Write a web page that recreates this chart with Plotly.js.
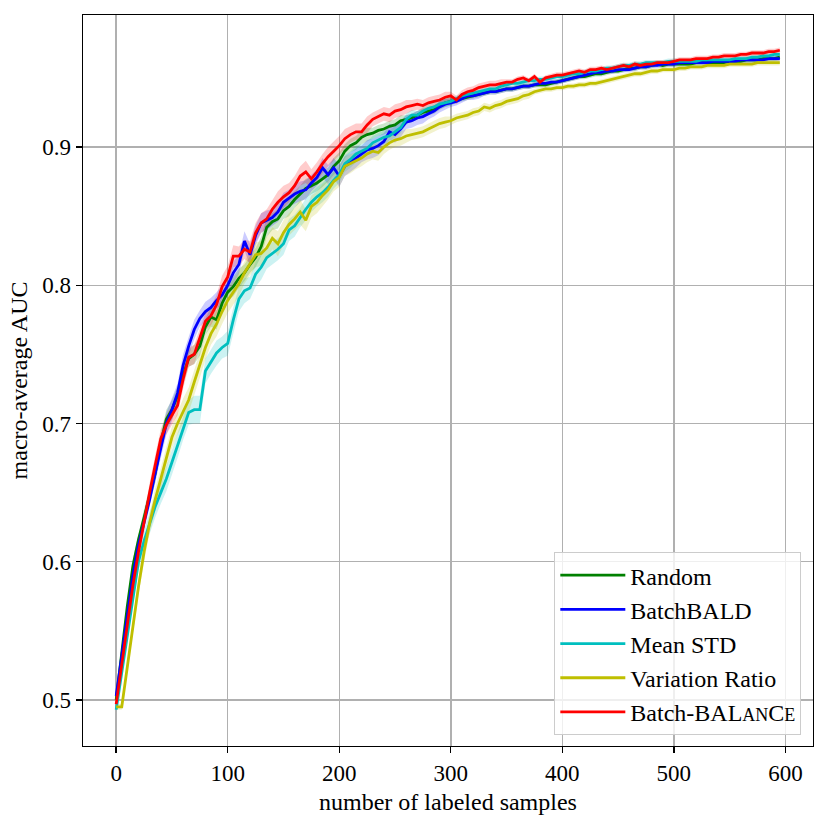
<!DOCTYPE html>
<html>
<head>
<meta charset="utf-8">
<script src="https://cdn.plot.ly/plotly-3.0.1.min.js"></script>
<style>
  body { margin: 0; background: #fff; }
  #chart { width: 830px; height: 830px; }
</style>
</head>
<body>
<div id="chart"></div>
<script>
'use strict';

// labeled samples: 0, 5, ..., 595
var samples = [];
for (var s = 0; s <= 595; s += 5) samples.push(s);

var seriesNames = ['Random', 'BatchBALD', 'Mean STD', 'Variation Ratio',
    'Batch-BAL<span style="font-size:18px">AN</span>C<span style="font-size:18px">E</span>'];

var randomAuc = [
    0.500,0.535,0.568,0.597,0.616,0.632,0.648,0.664,0.686,0.703,
    0.710,0.720,0.735,0.747,0.750,0.756,0.770,0.777,0.775,0.787,
    0.795,0.799,0.805,0.809,0.815,0.820,0.828,0.842,0.846,0.848,
    0.854,0.857,0.862,0.866,0.870,0.872,0.874,0.877,0.880,0.886,
    0.890,0.897,0.901,0.903,0.907,0.909,0.910,0.912,0.913,0.915,
    0.916,0.919,0.920,0.921,0.923,0.925,0.926,0.927,0.930,0.932,
    0.933,0.934,0.935,0.936,0.937,0.938,0.939,0.940,0.940,0.941,
    0.942,0.942,0.943,0.944,0.944,0.945,0.945,0.945,0.946,0.947,
    0.948,0.949,0.950,0.951,0.951,0.952,0.953,0.953,0.954,0.955,
    0.955,0.956,0.957,0.957,0.958,0.958,0.959,0.960,0.959,0.960,
    0.960,0.960,0.960,0.960,0.961,0.961,0.961,0.961,0.961,0.961,
    0.962,0.962,0.962,0.963,0.963,0.963,0.964,0.964,0.964,0.965];

var batchBaldAuc = [
    0.503,0.532,0.560,0.590,0.612,0.628,0.645,0.664,0.683,0.700,
    0.710,0.722,0.742,0.756,0.768,0.776,0.781,0.784,0.789,0.793,
    0.800,0.809,0.815,0.832,0.822,0.836,0.845,0.847,0.849,0.853,
    0.860,0.863,0.866,0.868,0.869,0.874,0.878,0.885,0.880,0.885,
    0.879,0.886,0.889,0.892,0.895,0.898,0.899,0.901,0.904,0.911,
    0.909,0.913,0.918,0.919,0.921,0.922,0.924,0.926,0.929,0.931,
    0.932,0.933,0.935,0.937,0.937,0.938,0.939,0.940,0.940,0.941,
    0.942,0.942,0.943,0.944,0.944,0.945,0.946,0.946,0.947,0.947,
    0.948,0.949,0.950,0.951,0.952,0.953,0.954,0.954,0.955,0.955,
    0.956,0.956,0.956,0.957,0.958,0.958,0.959,0.959,0.960,0.960,
    0.960,0.961,0.961,0.961,0.961,0.961,0.961,0.962,0.962,0.962,
    0.962,0.962,0.963,0.963,0.963,0.963,0.963,0.964,0.964,0.964];

var meanStdAuc = [
    0.493,0.520,0.548,0.576,0.600,0.615,0.628,0.640,0.650,0.660,
    0.672,0.684,0.697,0.708,0.710,0.710,0.738,0.745,0.751,0.755,
    0.758,0.775,0.790,0.796,0.798,0.808,0.813,0.820,0.823,0.826,
    0.830,0.840,0.843,0.849,0.855,0.860,0.864,0.867,0.871,0.876,
    0.880,0.888,0.891,0.895,0.897,0.899,0.903,0.905,0.907,0.908,
    0.911,0.914,0.920,0.923,0.923,0.926,0.928,0.929,0.931,0.932,
    0.933,0.935,0.937,0.938,0.939,0.940,0.941,0.942,0.942,0.944,
    0.945,0.946,0.946,0.947,0.948,0.948,0.949,0.949,0.950,0.951,
    0.951,0.952,0.953,0.953,0.954,0.955,0.955,0.956,0.957,0.957,
    0.958,0.959,0.959,0.960,0.960,0.961,0.961,0.961,0.961,0.962,
    0.962,0.962,0.962,0.962,0.962,0.963,0.963,0.963,0.963,0.963,
    0.963,0.964,0.964,0.964,0.965,0.965,0.966,0.966,0.967,0.967];

var variationRatioAuc = [
    0.495,0.495,0.524,0.553,0.582,0.607,0.628,0.645,0.660,0.675,
    0.690,0.700,0.709,0.717,0.730,0.742,0.755,0.765,0.772,0.781,
    0.789,0.795,0.801,0.809,0.816,0.822,0.823,0.827,0.834,0.830,
    0.838,0.844,0.848,0.853,0.847,0.857,0.860,0.865,0.869,0.875,
    0.878,0.886,0.888,0.890,0.892,0.895,0.897,0.896,0.900,0.903,
    0.905,0.906,0.908,0.909,0.910,0.911,0.913,0.915,0.917,0.918,
    0.919,0.921,0.922,0.923,0.925,0.926,0.929,0.928,0.930,0.931,
    0.933,0.934,0.935,0.937,0.938,0.940,0.941,0.942,0.942,0.943,
    0.943,0.944,0.944,0.945,0.945,0.946,0.946,0.947,0.948,0.949,
    0.950,0.951,0.952,0.953,0.953,0.954,0.955,0.955,0.956,0.956,
    0.956,0.957,0.957,0.958,0.958,0.958,0.959,0.959,0.959,0.959,
    0.960,0.960,0.960,0.960,0.960,0.961,0.961,0.961,0.961,0.961];

var balanceAuc = [
    0.497,0.526,0.556,0.583,0.607,0.630,0.650,0.670,0.689,0.699,
    0.706,0.713,0.732,0.748,0.750,0.762,0.774,0.778,0.786,0.799,
    0.806,0.821,0.821,0.826,0.824,0.838,0.845,0.848,0.855,0.860,
    0.864,0.867,0.872,0.879,0.882,0.877,0.882,0.888,0.893,0.897,
    0.901,0.906,0.909,0.911,0.911,0.916,0.920,0.922,0.924,0.923,
    0.926,0.927,0.929,0.930,0.931,0.930,0.932,0.933,0.934,0.936,
    0.937,0.934,0.938,0.940,0.941,0.943,0.944,0.945,0.945,0.946,
    0.947,0.947,0.949,0.950,0.948,0.951,0.947,0.950,0.951,0.952,
    0.952,0.953,0.954,0.955,0.954,0.956,0.956,0.957,0.956,0.957,
    0.958,0.959,0.958,0.960,0.959,0.960,0.960,0.961,0.961,0.961,
    0.962,0.963,0.963,0.963,0.964,0.964,0.964,0.965,0.965,0.966,
    0.966,0.966,0.967,0.967,0.968,0.968,0.968,0.969,0.969,0.970];

// half width of the shaded band, in thousandths of AUC
var randomBand = [
    2,3,4,5,5,6,6,7,7,7, 7,7,7,6,7,7,6,7,7,6,
    6,7,7,6,6,7,7,7,6,7, 6,7,6,6,7,6,6,6,5,6,
    6,5,5,5,5,5,4,4,4,4, 4,4,3,3,3,3,3,3,3,3,
    3,2,2,2,2,2,2,2,2,2, 2,2,2,2,2,2,2,2,2,2,
    2,2,2,2,2,2,2,2,2,2, 2,2,2,2,2,2,2,2,2,2,
    2,2,2,2,2,2,2,2,2,2, 2,2,2,2,2,2,2,2,2,2];
var batchBaldBand = [
    2,3,4,5,6,6,7,7,8,8, 8,7,8,7,7,6,7,7,6,7,
    7,8,7,7,8,7,7,7,6,7, 7,6,7,7,7,6,6,7,7,7,
    8,7,7,7,6,7,7,7,6,6, 6,6,5,5,5,5,4,4,4,4,
    3,3,3,3,3,3,2,2,2,2, 2,2,2,2,2,2,2,2,2,2,
    2,2,2,2,2,2,2,2,2,2, 2,2,2,2,2,2,2,2,2,2,
    2,2,2,2,2,2,2,2,2,2, 2,2,2,2,2,2,2,2,2,2];
var meanStdBand = [
    2,3,4,5,6,7,8,8,8,9, 9,9,9,9,10,10,9,9,9,8,
    9,9,9,9,8,9,9,8,8,8, 8,8,8,7,8,7,7,7,7,6,
    6,6,6,6,5,5,5,5,5,4, 4,4,4,4,3,3,3,3,3,3,
    3,2,2,2,2,2,2,2,2,2, 2,2,2,2,2,2,2,2,2,2,
    2,2,2,2,2,2,2,2,2,2, 2,2,2,2,2,2,2,2,2,2,
    2,2,2,2,2,2,2,2,2,2, 2,2,2,2,2,2,2,2,2,2];
var variationRatioBand = [
    2,2,4,5,6,7,7,8,8,8, 8,8,9,9,9,9,9,8,9,9,
    9,9,9,8,9,9,9,8,8,9, 9,8,8,9,8,8,8,8,7,7,
    7,7,7,6,6,6,6,6,5,5, 5,5,5,4,4,4,4,4,4,4,
    3,3,3,3,3,3,3,3,3,3, 3,3,3,3,3,2,2,2,2,2,
    2,2,2,2,2,2,2,2,2,2, 2,2,2,2,2,2,2,2,2,2,
    2,2,2,2,2,2,2,2,2,2, 2,2,2,2,2,2,2,2,2,2];
var balanceBand = [
    2,3,4,5,6,6,7,7,7,7, 7,7,7,7,7,7,6,7,7,8,
    8,8,7,7,8,7,7,7,7,8, 8,7,7,7,8,7,7,7,7,7,
    7,7,6,6,6,6,5,5,5,5, 5,5,5,4,4,4,4,4,4,4,
    3,3,3,3,3,3,3,3,3,3, 2,2,2,2,2,2,2,2,2,2,
    2,2,2,2,2,2,2,2,2,2, 2,2,2,2,2,2,2,2,2,2,
    2,2,2,2,2,2,2,2,2,2, 2,2,2,2,2,2,2,2,2,2];

var allAuc = [randomAuc, batchBaldAuc, meanStdAuc, variationRatioAuc, balanceAuc];
var allBand = [randomBand, batchBaldBand, meanStdBand, variationRatioBand, balanceBand];
var lineColors = ['#008000', '#0000ff', '#00bfbf', '#bfbf00', '#ff0000'];
var bandColors = ['rgba(0,128,0,0.2)', 'rgba(0,0,255,0.2)', 'rgba(0,191,191,0.2)',
    'rgba(191,191,0,0.2)', 'rgba(255,0,0,0.2)'];

var data = [];
// shaded bands first, under every line
for (var i = 0; i < allAuc.length; i++) {
    var upper = [], lower = [];
    for (var j = 0; j < samples.length; j++) {
        upper.push(allAuc[i][j] + allBand[i][j] / 1000);
        lower.push(allAuc[i][j] - allBand[i][j] / 1000);
    }
    data.push({
        x: samples.concat(samples.slice().reverse()),
        y: upper.concat(lower.reverse()),
        type: 'scatter',
        mode: 'lines',
        fill: 'toself',
        fillcolor: bandColors[i],
        line: {width: 0},
        hoverinfo: 'skip',
        showlegend: false
    });
}
for (var k = 0; k < allAuc.length; k++) {
    data.push({
        x: samples,
        y: allAuc[k],
        type: 'scatter',
        mode: 'lines',
        name: seriesNames[k],
        line: {color: lineColors[k], width: 2.8}
    });
}

var axisStyle = {
    showline: true,
    mirror: true,
    linecolor: '#000',
    linewidth: 1.4,
    ticks: 'outside',
    ticklen: 6,
    tickwidth: 1.4,
    tickcolor: '#000',
    tickfont: {size: 23},
    showgrid: true,
    gridcolor: '#b0b0b0',
    gridwidth: 1.5,
    zeroline: false
};

var layout = {
    width: 830,
    height: 830,
    margin: {l: 83, r: 17, t: 15, b: 84},
    paper_bgcolor: '#fff',
    plot_bgcolor: '#fff',
    font: {family: 'Liberation Serif, DejaVu Serif, serif', size: 21, color: '#000'},
    showlegend: true,
    legend: {
        x: 0.984,
        y: 0.015,
        xanchor: 'right',
        yanchor: 'bottom',
        bgcolor: 'rgba(255,255,255,0.8)',
        bordercolor: '#cccccc',
        borderwidth: 1,
        itemwidth: 65,
        font: {size: 24}
    },
    xaxis: Object.assign({}, axisStyle, {
        range: [-29.75, 624.75],
        tickvals: [0, 100, 200, 300, 400, 500, 600],
        title: {text: 'number of labeled samples', standoff: 8, font: {size: 24}}
    }),
    yaxis: Object.assign({}, axisStyle, {
        range: [0.4667, 0.9955],
        tickvals: [0.5, 0.6, 0.7, 0.8, 0.9],
        ticktext: ['0.5', '0.6', '0.7', '0.8', '0.9'],
        title: {text: 'macro-average AUC', standoff: 8, font: {size: 24}}
    })
};

Plotly.newPlot('chart', data, layout, {staticPlot: true});
</script>
</body>
</html>
